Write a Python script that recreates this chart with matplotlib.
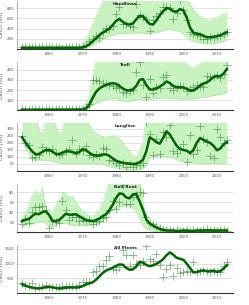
import numpy as np
import matplotlib
matplotlib.use("Agg")
import matplotlib.pyplot as plt

years = list(range(1952, 2014))

# ---------------- Handlines ----------------
hl_line = [25]*18 + [30, 50, 90, 150, 210, 270, 320, 360, 400, 470, 550, 590, 530, 490, 480, 500,
                     580, 650, 640, 560, 490, 480, 560, 660, 740, 800, 790, 740, 730, 780, 760, 620,
                     420, 320, 300, 290, 260, 230, 230, 240, 250, 270, 300, 330]
hl_low = [5]*18 + [10, 25, 50, 80, 110, 150, 190, 220, 250, 270, 300, 300, 300, 300, 310, 310,
                   310, 320, 310, 300, 300, 310, 320, 340, 360, 380, 380, 370, 360, 340, 290, 230,
                   180, 150, 130, 120, 110, 100, 100, 105, 115, 130, 150, 170]
hl_high = [60]*18 + [100, 200, 350, 500, 650, 800, 950, 1100, 1200, 1200, 1200, 1200, 1200, 1200,
                     1200, 1200, 1200, 1200, 1200, 1200, 1200, 1200, 1200, 1200, 1200, 1200, 1200,
                     1200, 1200, 1200, 1200, 1050, 880, 780, 700, 650, 600, 570, 560, 590, 630,
                     660, 690, 720]
hl_obs = [40, 35, 30, 40, 35, 30, 30, 35, 30, 35, 30, 30, 25, 30, 30, 35, 40, 45,
          60, 80, 150, 200, 260, 210, 330, 420, 400, 460, 690, 820, 490, 480, 460, 440,
          880, 660, 620, 580, 360, 560, 640, 700, 830, 820, 800, 580, 710, 960, 760, 560,
          330, 300, 270, 250, 200, 200, 230, 220, 260, 250, 300, 330]

# ---------------- Troll ----------------
tr_line = [3, 3, 2, 3, 3, 4, 3, 3, 4, 3, 3, 4, 3, 3, 4, 4, 4, 5,
           5, 15, 50, 120, 180, 215, 235, 250, 262, 268, 262, 240, 215, 198, 195, 205,
           240, 300, 310, 250, 205, 205, 215, 235, 255, 285, 270, 240, 228, 228, 225, 212,
           195, 195, 215, 245, 265, 275, 300, 330, 340, 335, 365, 410]
tr_low = [0]*18 + [1, 5, 20, 45, 65, 80, 95, 105, 112, 117, 115, 100, 88, 83, 85, 92,
                   100, 110, 107, 105, 107, 110, 112, 115, 118, 118, 115, 112, 110, 110, 108, 106,
                   108, 110, 115, 120, 125, 130, 138, 145, 150, 155, 165, 175]
tr_high = [10]*18 + [20, 60, 150, 350, 520, 560, 560, 560, 560, 560, 560, 560, 560, 560, 560, 560,
                     560, 560, 560, 560, 560, 560, 560, 560, 560, 560, 560, 560, 560, 560, 540, 460,
                     435, 430, 440, 470, 520, 560, 560, 560, 560, 560, 560, 560]
tr_obs = [8, 10, 5, 12, 8, 10, 6, 9, 12, 8, 10, 7, 12, 9, 10, 12, 14, 15,
          12, 30, 60, 300, 300, 290, 270, 260, 250, 240, 220, 230, 183, 173, 190, 200,
          377, 483, 250, 127, 307, 167, 230, 215, 327, 350, 220, 200, 215, 237, 225, 190,
          210, 230, 250, 240, 230, 343, 325, 330, 345, 320, 360, 450]

# ---------------- Longline ----------------
ll_line = [240, 205, 170, 140, 120, 120, 135, 150, 150, 140, 122, 120, 130, 140, 140, 135, 128, 135,
           155, 150, 130, 115, 110, 110, 118, 118, 108, 90, 73, 65, 58, 55, 52, 50,
           52, 62, 80, 140, 240, 225, 205, 195, 235, 283, 260, 220, 180, 158, 150, 145,
           128, 150, 200, 235, 222, 210, 200, 180, 148, 160, 190, 206]
ll_low = [206, 170, 120, 80, 78, 78, 78, 76, 74, 70, 62, 58, 55, 55, 55, 55, 55, 55,
          55, 54, 52, 50, 48, 48, 46, 40, 32, 24, 20, 16, 12, 10, 8, 6,
          8, 10, 20, 40, 97, 100, 102, 103, 103, 100, 95, 88, 80, 72, 66, 62,
          58, 56, 55, 55, 55, 54, 52, 52, 52, 53, 55, 58]
ll_high = [400, 400, 400, 400, 400, 300, 253, 400, 400, 400, 320, 265, 300, 400, 400, 400, 400, 400,
           400, 400, 330, 288, 275, 260, 245, 241, 245, 250, 253, 230, 200, 171, 140, 115,
           101, 150, 218, 400, 400, 400, 400, 400, 400, 400, 400, 400, 400, 400, 400, 400,
           400, 400, 400, 400, 400, 400, 400, 400, 400, 400, 400, 400]
ll_obs = [246, 200, 183, 90, 101, 113, 171, 150, 140, 160, 130, 115, 120, 140, 160, 218, 120, 160,
          140, 175, 113, 100, 120, 110, 167, 160, 78, 70, 55, 43, 60, 31, 50, 27,
          45, 40, 60, 346, 264, 113, 230, 120, 276, 240, 330, 145, 130, 160, 190, 66,
          253, 120, 150, 322, 230, 210, 110, 90, 299, 241, 200, 220]

# ---------------- Bait Boat ----------------
bb_line = [22, 25, 26, 32, 37, 36, 40, 42, 35, 23, 22, 24, 30, 37, 35, 35, 36, 32,
           28, 24, 23, 22, 24, 27, 32, 36, 44, 55, 69, 78, 77, 70, 68, 76,
           77, 62, 45, 25, 17, 13, 9, 6, 4, 3, 3, 3, 2, 2, 3, 3,
           2, 2, 3, 3, 3, 3, 3, 3, 3, 3, 3, 3]
bb_low = [12, 13, 15, 16, 18, 20, 22, 18, 9, 10, 14, 18, 19, 17, 15, 13, 13, 13,
          13, 13, 13, 14, 15, 18, 22, 30, 40, 44, 47, 50, 52, 53, 52, 48,
          40, 25, 12, 6, 3, 2, 1, 1, 0, 0, 0, 0, 0, 0, 0, 0,
          0, 0, 0, 0, 0, 0, 0, 0, 0, 0, 0, 0]
bb_high = [31, 42, 58, 75, 84, 75, 90, 53, 34, 40, 55, 66, 81, 78, 72, 72, 62, 50,
           42, 37, 33, 31, 38, 48, 62, 80, 110, 110, 110, 110, 110, 110, 110, 110,
           110, 110, 60, 31, 19, 12, 9, 8, 7, 7, 7, 7, 7, 7, 7, 7,
           7, 7, 7, 7, 7, 8, 8, 8, 7, 7, 7, 8]
bb_obs = [16, 26, 19, 40, 51, 51, 53, 45, 9, 22, 20, 19, 62, 44, 25, 31, 30, 22,
          25, 22, 24, 16, 20, 22, 28, 31, 45, 62, 47, 60, 94, 56, 56, 70, 75, 81, 78, 30,
          19, 16, 12, 8, 6, 5, 4, 3, 5, 3, 2, 4, 3, 5, 2, 3, 4, 6, 3, 4, 3, 5, 4, 3]

# ---------------- All Fleets ----------------
af_line = [300, 250, 210, 180, 160, 155, 175, 195, 205, 195, 170, 150, 160, 180, 190, 190, 185, 195,
           230, 290, 330, 360, 450, 560, 680, 760, 810, 860, 920, 970, 960, 850, 790, 800,
           900, 1060, 1030, 950, 910, 940, 990, 1060, 1150, 1280, 1380, 1300, 1200, 1160, 1130, 1000,
           850, 700, 710, 750, 770, 740, 740, 760, 720, 740, 830, 950]
af_obs = [330, 240, 240, 353, 170, 200, 210, 274, 200, 210, 220, 220, 230, 240, 230, 240, 220, 260,
          388, 390, 380, 730, 760, 923, 900, 1129, 1243, 800, 780, 870, 1470, 1300, 900, 1300,
          1000, 950, 1070, 1585, 1150, 1100, 1334, 960, 559, 800, 958, 581, 860, 673, 700, 760,
          720, 1037, 700, 760, 780, 740, 700, 760, 720, 700, 900, 1037]

titles = ["Handlines", "Troll", "Longline", "Bait Boat", "All Fleets"]
ylims = [940, 480, 342, 97, 1630]
yticks = [[200, 400, 600, 800], [100, 200, 300, 400], [50, 100, 150, 200, 250, 300],
          [20, 40, 60, 80], [500, 1000, 1500]]
lines = [hl_line, tr_line, ll_line, bb_line, af_line]
lows = [hl_low, tr_low, ll_low, bb_low, None]
highs = [hl_high, tr_high, ll_high, bb_high, None]
obss = [hl_obs, tr_obs, ll_obs, bb_obs, af_obs]

fig = plt.figure(figsize=(2.49, 3.05), dpi=100)
tops = [1, 62, 123, 184, 245]
H = 305.0
for i in range(5):
    top = tops[i]
    ax = fig.add_axes([17/249, 1 - (top + 48)/H, 216/249, 48/H])
    y = np.array(years)
    if lows[i] is not None:
        ax.fill_between(y, lows[i], highs[i], color="#c8f2c0", lw=0, zorder=1)
        ax.plot(y, lows[i], color="#66cc66", lw=0.4, ls=":", zorder=2)
        ax.plot(y, highs[i], color="#66cc66", lw=0.4, ls=":", zorder=2)
    ax.plot(y, obss[i], ls="none", marker="+", ms=6, mew=0.6,
            color="#2e7d32", alpha=0.6, zorder=3)
    ax.plot(y, lines[i], color="#006400", lw=1.8, zorder=4)
    ax.set_xlim(1950.5, 2014.8)
    ax.set_ylim(0, ylims[i])
    ax.set_yticks(yticks[i])
    ax.set_yticklabels([str(v) for v in yticks[i]])
    ax.set_xticks([1960, 1970, 1980, 1990, 2000, 2010])
    ax.tick_params(axis="both", length=0, labelsize=2.8, colors="#555555", pad=2)
    ax.grid(axis="y", color="#dddddd", lw=0.6, zorder=0)
    ax.set_axisbelow(True)
    for s in ["top", "right"]:
        ax.spines[s].set_visible(False)
    ax.spines["left"].set_color("#aaaaaa")
    ax.spines["left"].set_linewidth(0.6)
    ax.spines["bottom"].set_color("#333333")
    ax.spines["bottom"].set_linewidth(0.8)
    ax.text(0.5, 0.97, titles[i], transform=ax.transAxes, ha="center", va="top",
            fontsize=3.2, fontweight="bold", color="#222222", zorder=5)
    ax.set_ylabel("Catch (mt)", fontsize=3.5, color="#555555")
    ax.yaxis.set_label_coords(-0.058, 0.5)

fig.savefig("out.png", dpi=100)
